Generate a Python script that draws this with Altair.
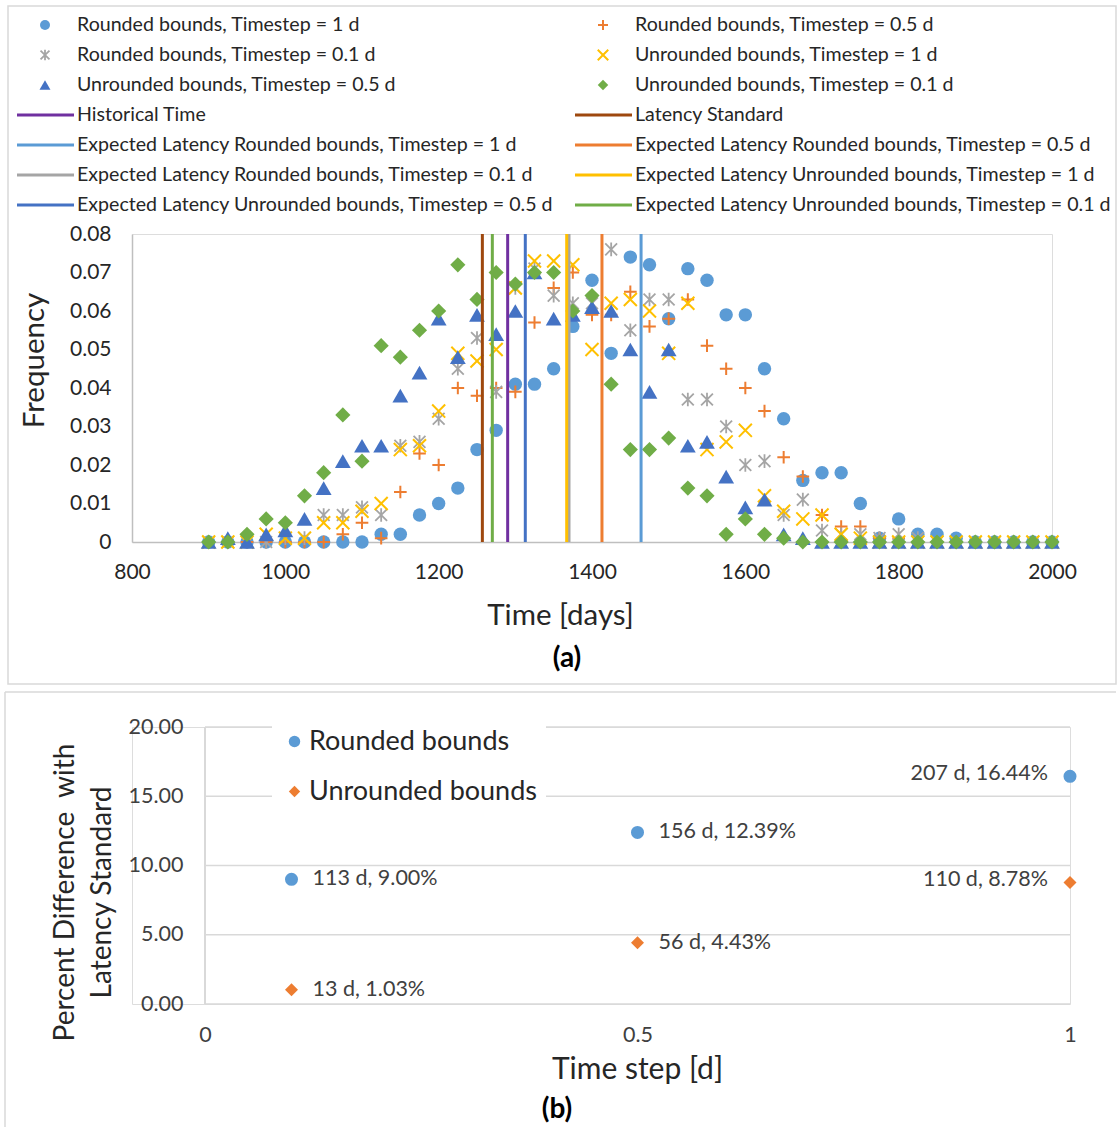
import altair as alt
import pandas as pd

# ---------------- data: panel (a) ----------------
days = [900, 925, 950, 975, 1000, 1025, 1050, 1075, 1100, 1125, 1150, 1175, 1200,
        1225, 1250, 1275, 1300, 1325, 1350, 1375, 1400, 1425, 1450, 1475, 1500,
        1525, 1550, 1575, 1600, 1625, 1650, 1675, 1700, 1725, 1750, 1775, 1800,
        1825, 1850, 1875, 1900, 1925, 1950, 1975, 2000]

rounded_1 = [0, 0, 0, 0, 0, 0, 0, 0, 0, 0.002, 0.002, 0.007, 0.010, 0.014, 0.024,
             0.029, 0.041, 0.041, 0.045, 0.056, 0.068, 0.049, 0.074, 0.072, 0.058,
             0.071, 0.068, 0.059, 0.059, 0.045, 0.032, 0.016, 0.018, 0.018, 0.010,
             0.001, 0.006, 0.002, 0.002, 0.001, 0, 0, 0, 0, 0]
rounded_05 = [0, 0, 0, 0, 0, 0, 0, 0.002, 0.005, 0.001, 0.013, 0.023, 0.020, 0.040,
              0.038, 0.040, 0.039, 0.057, 0.066, 0.070, 0.059, 0.059, 0.065, 0.056,
              0.058, 0.063, 0.051, 0.045, 0.040, 0.034, 0.022, 0.017, 0.007, 0.004,
              0.004, 0.001, 0.001, 0, 0, 0, 0, 0, 0, 0, 0]
rounded_01 = [0, 0, 0, 0, 0.001, 0.001, 0.007, 0.007, 0.009, 0.007, 0.025, 0.026,
              0.032, 0.045, 0.053, 0.039, 0.066, 0.071, 0.064, 0.062, 0.062, 0.076,
              0.055, 0.063, 0.063, 0.037, 0.037, 0.030, 0.020, 0.021, 0.007, 0.011,
              0.003, 0.002, 0.002, 0.001, 0.002, 0.001, 0, 0, 0, 0, 0, 0, 0]
unrounded_1 = [0, 0, 0, 0.002, 0.001, 0.001, 0.005, 0.005, 0.008, 0.010, 0.024,
               0.025, 0.034, 0.049, 0.047, 0.050, 0.066, 0.073, 0.073, 0.072, 0.050,
               0.062, 0.063, 0.060, 0.049, 0.062, 0.024, 0.026, 0.029, 0.012, 0.008,
               0.006, 0.007, 0.002, 0.001, 0, 0, 0, 0, 0, 0, 0, 0, 0, 0]
unrounded_05 = [0, 0.001, 0, 0.002, 0.003, 0.006, 0.014, 0.021, 0.025, 0.025, 0.038,
                0.044, 0.058, 0.048, 0.059, 0.054, 0.060, 0.070, 0.058, 0.059, 0.061,
                0.060, 0.050, 0.039, 0.050, 0.025, 0.026, 0.017, 0.009, 0.011, 0.002,
                0.001, 0, 0, 0, 0, 0, 0, 0, 0, 0, 0, 0, 0, 0]
unrounded_01 = [0, 0, 0.002, 0.006, 0.005, 0.012, 0.018, 0.033, 0.021, 0.051, 0.048,
                0.055, 0.060, 0.072, 0.063, 0.070, 0.067, 0.070, 0.070, 0.060, 0.064,
                0.041, 0.024, 0.024, 0.027, 0.014, 0.012, 0.002, 0.006, 0.002, 0.001,
                0, 0, 0, 0, 0, 0, 0, 0, 0, 0, 0, 0, 0, 0]

series_names = ["Rounded bounds, Timestep = 1 d", "Rounded bounds, Timestep = 0.5 d",
                "Rounded bounds, Timestep = 0.1 d", "Unrounded bounds, Timestep = 1 d",
                "Unrounded bounds, Timestep = 0.5 d", "Unrounded bounds, Timestep = 0.1 d"]
series_values = [rounded_1, rounded_05, rounded_01, unrounded_1, unrounded_05, unrounded_01]
series_colors = ["#5B9BD5", "#ED7D31", "#A5A5A5", "#FFC000", "#4472C4", "#70AD47"]

line_names = ["Historical Time", "Latency Standard",
              "Expected Latency Rounded bounds, Timestep = 1 d",
              "Expected Latency Rounded bounds, Timestep = 0.5 d",
              "Expected Latency Rounded bounds, Timestep = 0.1 d",
              "Expected Latency Unrounded bounds, Timestep = 1 d",
              "Expected Latency Unrounded bounds, Timestep = 0.5 d",
              "Expected Latency Unrounded bounds, Timestep = 0.1 d"]
line_days = [1290, 1257, 1464, 1413, 1370, 1367, 1313, 1270]
line_colors = ["#7030A0", "#9E480E", "#5B9BD5", "#ED7D31", "#A5A5A5", "#FFC000",
               "#4472C4", "#70AD47"]

x_ticks_a = [800, 1000, 1200, 1400, 1600, 1800, 2000]
y_ticks_a = [0, 0.01, 0.02, 0.03, 0.04, 0.05, 0.06, 0.07, 0.08]

# ---------------- data: panel (b) ----------------
timesteps = [0.1, 0.5, 1]
rounded_pct = [9.00, 12.39, 16.44]
unrounded_pct = [1.03, 4.43, 8.78]
rounded_labels = ["113 d, 9.00%", "156 d, 12.39%", "207 d, 16.44%"]
unrounded_labels = ["13 d, 1.03%", "56 d, 4.43%", "110 d, 8.78%"]
b_series = ["Rounded bounds", "Unrounded bounds"]
b_colors = ["#5B9BD5", "#ED7D31"]
x_ticks_b = [0, 0.5, 1]
y_ticks_b = [0, 5, 10, 15, 20]

# ---------------- styles ----------------
FONT = "Lato"
FRAME = "#D9D9D9"
PLUS = "M-1,0L1,0M0,-1L0,1"
XMARK = "M-1,-1L1,1M-1,1L1,-1"
STAR = "M-1,-1L1,1M-1,1L1,-1M0,-1.15L0,1.15"
marker_styles = [
    dict(shape="circle", filled=True, size=180, strokeWidth=0),
    dict(shape=PLUS, filled=False, size=160, strokeWidth=2),
    dict(shape=STAR, filled=False, size=140, strokeWidth=1.8),
    dict(shape=XMARK, filled=False, size=170, strokeWidth=2),
    dict(shape="triangle-up", filled=True, size=250, strokeWidth=0),
    dict(shape="diamond", filled=True, size=230, strokeWidth=0),
]
legend_marker_sizes = [100, 100, 80, 110, 120, 110]

xa = alt.X("time:Q", scale=alt.Scale(domain=[800, 2000], nice=False, zero=False),
           axis=alt.Axis(values=x_ticks_a, format="d", grid=False, ticks=False, tickSize=0,
                         labelFlush=False, labelOverlap=False, tickCount=30,
                         domainColor="#BFBFBF", domainWidth=1.5, labelFont=FONT,
                         labelFontSize=21, labelColor="#262626", labelPadding=19,
                         title="Time [days]", titleFont=FONT, titleFontSize=29.5,
                         titleFontWeight="normal", titleColor="#262626",
                         titlePadding=19, titleX=428))
ya = alt.Y("freq:Q", scale=alt.Scale(domain=[0, 0.08], nice=False),
           axis=alt.Axis(values=y_ticks_a, grid=False, ticks=False, tickSize=0,
                         labelOverlap=False, labelFlush=False, tickCount=20,
                         labelExpr="datum.value == 0 ? '0' : format(datum.value, '.2f')",
                         domainColor="#BFBFBF", domainWidth=1.5, labelFont=FONT,
                         labelFontSize=21, labelColor="#262626", labelPadding=21,
                         title="Frequency", titleFont=FONT, titleFontSize=29.5,
                         titleFontWeight="normal", titleColor="#262626",
                         titlePadding=20, titleY=126))

point_layers = []
for name, vals, col, st in zip(series_names, series_values, series_colors, marker_styles):
    df = pd.DataFrame({"time": days, "freq": vals, "series": name})
    point_layers.append(
        alt.Chart(df).mark_point(color=col, opacity=1, **st).encode(x=xa, y=ya)
    )

df_lines = pd.DataFrame({"time": line_days, "name": line_names})
rules = alt.Chart(df_lines).mark_rule(strokeWidth=3).encode(
    x="time:Q",
    y=alt.datum(0),
    y2=alt.datum(0.08),
    color=alt.Color("name:N", scale=alt.Scale(domain=line_names, range=line_colors),
                    legend=None),
)
main = alt.layer(*point_layers, rules)

# ---------------- manual legend, frame and caption for panel (a) ----------------
legend_labels = series_names + line_names
df_leg = pd.DataFrame({
    "label": legend_labels,
    "col": [i % 2 for i in range(len(legend_labels))],
    "row": [i // 2 for i in range(len(legend_labels))],
})
lx = alt.Scale(domain=[0, 1], range=[-87, 471])
ly = alt.Scale(domain=[0, 6], range=[-209, -29])
lX = alt.X("col:Q", scale=lx, axis=None)
lY = alt.Y("row:Q", scale=ly, axis=None)

leg_text = alt.Chart(df_leg).mark_text(
    align="left", baseline="middle", dx=32, font=FONT, fontSize=19.6, color="#262626"
).encode(x=lX, y=lY, text="label:N")

leg_markers = []
for i, (col, st, sz) in enumerate(zip(series_colors, marker_styles, legend_marker_sizes)):
    s = dict(st)
    s["size"] = sz
    leg_markers.append(
        alt.Chart(df_leg.iloc[[i]]).mark_point(color=col, opacity=1, **s).encode(x=lX, y=lY)
    )

leg_lines = alt.Chart(df_leg.iloc[6:]).mark_rule(strokeWidth=3, xOffset=-28, x2Offset=29).encode(
    x=lX, x2="col:Q", y=lY,
    color=alt.Color("label:N", scale=alt.Scale(domain=line_names, range=line_colors),
                    legend=None),
)

one = pd.DataFrame({"k": [0]})
frame_a = alt.Chart(one).mark_rect(fillOpacity=0, stroke=FRAME, strokeWidth=1.5).encode(
    x=alt.value(-124), x2=alt.value(984), y=alt.value(-228), y2=alt.value(450)
)
caption_a = alt.Chart(one).mark_text(
    text="(a)", font=FONT, fontSize=28, fontWeight="bold", color="#000000",
    align="center", baseline="middle"
).encode(x=alt.value(435), y=alt.value(425))
legend_a = alt.layer(frame_a, caption_a, leg_text, *leg_markers, leg_lines)

top = alt.layer(main, legend_a).resolve_scale(x="independent", y="independent").properties(
    width=920, height=308,
)

# ---------------- panel (b) ----------------
df_b = pd.DataFrame({
    "step": timesteps + timesteps,
    "pct": rounded_pct + unrounded_pct,
    "series": [b_series[0]] * 3 + [b_series[1]] * 3,
    "label": rounded_labels + unrounded_labels,
})
bx_scale = alt.Scale(domain=[-73 / 865, 1], nice=False, zero=False)
by_scale = alt.Scale(domain=[0, 20], nice=False)

xb = alt.X("step:Q", scale=bx_scale,
           axis=alt.Axis(values=x_ticks_b, format="~g", grid=False, ticks=False, tickSize=0,
                         labelFlush=False, labelOverlap=False, tickCount=20,
                         domain=False, labelFont=FONT, labelFontSize=21.5,
                         labelColor="#404040", labelPadding=20,
                         title="Time step [d]", titleFont=FONT, titleFontSize=30,
                         titleFontWeight="normal", titleColor="#262626",
                         titlePadding=9, titleX=505))
yb = alt.Y("pct:Q", scale=by_scale,
           axis=alt.Axis(values=y_ticks_b, format=".2f", grid=False, ticks=False, tickSize=0,
                         labelOverlap=False, labelFlush=False, tickCount=20,
                         domain=False, offset=-73, labelFont=FONT, labelFontSize=21.5,
                         labelColor="#404040", labelPadding=22,
                         title=["Percent Difference \u00a0with", "Latency Standard"],
                         titleFont=FONT, titleFontSize=28,
                         titleFontWeight="normal", titleColor="#262626",
                         titleLineHeight=37, titlePadding=12, titleY=165))

df_grid = pd.DataFrame({"v": y_ticks_b})
grid = alt.Chart(df_grid).mark_rule(color="#D9D9D9", strokeWidth=1.5).encode(
    x=alt.datum(0, scale=bx_scale), x2=alt.datum(1), y=alt.Y("v:Q", scale=by_scale)
)
yline = alt.Chart(df_grid).mark_rule(color="#D9D9D9", strokeWidth=1.5).encode(
    x=alt.datum(0), y=alt.datum(0), y2=alt.datum(20)
)
frame_b_left = alt.Chart(one).mark_rule(color=FRAME, strokeWidth=1.5).encode(
    x=alt.value(-127), y=alt.value(-35), y2=alt.value(400)
)
frame_b_top = alt.Chart(one).mark_rule(color=FRAME, strokeWidth=1.5).encode(
    x=alt.value(-127), x2=alt.value(984), y=alt.value(-35)
)
caption_b = alt.Chart(one).mark_text(
    text="(b)", font=FONT, fontSize=28, fontWeight="bold", color="#000000",
    align="center", baseline="middle"
).encode(x=alt.value(425), y=alt.value(383))

leg_b = alt.Legend(title=None, orient="none", legendX=140, legendY=-8, fillColor="white",
                   padding=9, labelFont=FONT, labelFontSize=27, labelColor="#262626",
                   labelLimit=0, symbolSize=130, rowPadding=22, labelOffset=1,
                   symbolStrokeWidth=0)
pts_b = alt.Chart(df_b).mark_point(filled=True, size=170, opacity=1).encode(
    x=xb, y=yb,
    color=alt.Color("series:N", scale=alt.Scale(domain=b_series, range=b_colors), legend=leg_b),
    shape=alt.Shape("series:N", scale=alt.Scale(domain=b_series, range=["circle", "diamond"]),
                    legend=leg_b),
)
lab_l = alt.Chart(df_b).transform_filter("datum.step < 1").mark_text(
    align="left", baseline="middle", dx=21, font=FONT, fontSize=21.5, color="#404040"
).encode(x="step:Q", y="pct:Q", text="label:N")
lab_r = alt.Chart(df_b).transform_filter("datum.step >= 1").mark_text(
    align="right", baseline="middle", dx=-22, dy=-2, font=FONT, fontSize=21.5, color="#404040"
).encode(x="step:Q", y="pct:Q", text="label:N")

bottom = alt.layer(frame_b_left, frame_b_top, grid, yline, pts_b, lab_l, lab_r,
                   caption_b).properties(width=938, height=277)

chart = alt.vconcat(top, bottom, spacing=4).resolve_scale(
    color="independent", shape="independent"
).resolve_legend(color="independent", shape="independent").properties(
    padding={"left": 3, "top": 4, "right": 0, "bottom": 0}
).configure_view(stroke=None).configure(background="white")

chart.save("out.html", embed_options={"renderer": "svg", "actions": False})
